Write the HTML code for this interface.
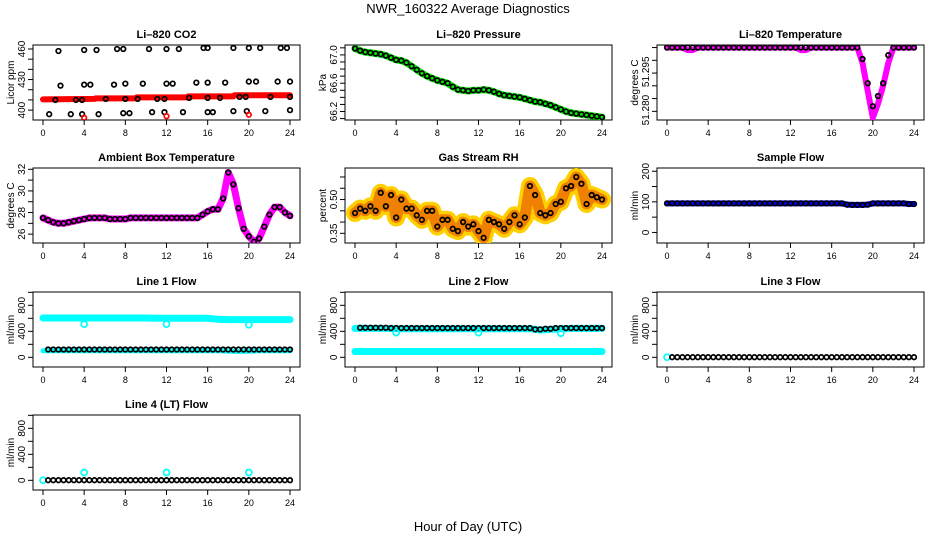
<!DOCTYPE html>
<html><head><meta charset="utf-8"><style>
body{margin:0;background:#fff}
svg{display:block;font-family:"Liberation Sans",Arial,sans-serif}
</style></head><body>
<svg id="c" width="936" height="540" viewBox="0 0 936 540">
<text x="468" y="13" text-anchor="middle" font-size="13">NWR_160322  Average Diagnostics</text>
<text x="468" y="531" text-anchor="middle" font-size="13">Hour of Day (UTC)</text>
</svg>
<script>
// ---- data ----
const hrs = [0,0.5,1,1.5,2,2.5,3,3.5,4,4.5,5,5.5,6,6.5,7,7.5,8,8.5,9,9.5,10,10.5,11,11.5,12,12.5,13,13.5,14,14.5,15,15.5,16,16.5,17,17.5,18,18.5,19,19.5,20,20.5,21,21.5,22,22.5,23,23.5,24];
const xTicks = [0,4,8,12,16,20,24];
// CO2
const co2BandHrs = [0,5,5.1,9,9.1,14,14.1,18.5,18.6,24];
const co2Band = [410.5,411,411.5,411.5,412.5,412.5,413.5,413.5,414.5,414.5];
const co2Hrs = [1.5,4,5.2,7.2,7.8,10.3,12,13.2,15.6,16,18.5,20,21.1,23.1,23.7, 1.7,4,4.6,6.9,8,9.7,12,12.6,14.9,16,17.7,20,20.7,22.8,24, 1.2,3.2,3.8,6.1,8,9.2,11.1,11.8,14.2,16,17.2,19.1,19.7,22.1,24, 0.6,2.7,3.8,5.4,7.8,8.4,10.6,11.8,13.6,16,16.5,18.5,19.8,21.6,24];
const co2Vals = [458,459,459,460,460,460,460,460,461,461,461,461,461,461,461, 424,425,425,425,426,426,426,426,427,427,427,428,428,428,428, 410,410,410,411,411,411,411,411,412,412,412,413,413,413,413, 396,396,396,396,397,397,398,398,398,398,398,399,399,399,400];
const co2RedHrs = [4,12,20];
const co2RedVals = [392.5,394,395.5];
// Pressure
const pres = [67.09,67.06,67.04,67.03,67.02,67.01,66.99,66.96,66.93,66.92,66.89,66.84,66.79,66.74,66.70,66.67,66.64,66.62,66.60,66.55,66.51,66.50,66.49,66.50,66.50,66.51,66.50,66.48,66.45,66.43,66.42,66.41,66.40,66.38,66.36,66.34,66.33,66.31,66.29,66.26,66.23,66.20,66.18,66.17,66.16,66.15,66.14,66.13,66.12];
// Li-820 temperature
const tempBlack = [51.305,51.305,51.305,51.305,51.305,51.305,51.305,51.305,51.305,51.305,51.305,51.305,51.305,51.305,51.305,51.305,51.305,51.305,51.305,51.305,51.305,51.305,51.305,51.305,51.305,51.305,51.305,51.305,51.305,51.305,51.305,51.305,51.305,51.305,51.305,51.305,51.305,51.305,51.3005,51.291,51.282,51.286,51.291,51.302,51.305,51.305,51.305,51.305,51.305];
const tempMag = [51.305,51.305,51.305,51.305,51.304,51.304,51.305,51.305,51.305,51.305,51.305,51.305,51.305,51.305,51.305,51.305,51.305,51.305,51.305,51.305,51.305,51.305,51.305,51.305,51.305,51.305,51.304,51.304,51.305,51.305,51.305,51.305,51.305,51.305,51.305,51.305,51.305,51.305,51.299,51.288,51.2775,51.283,51.290,51.299,51.305,51.305,51.305,51.305,51.305];
// Ambient box temperature
const amb = [27.5,27.3,27.1,27.0,27.0,27.1,27.2,27.3,27.4,27.5,27.5,27.5,27.5,27.4,27.4,27.4,27.4,27.5,27.5,27.5,27.5,27.5,27.5,27.5,27.5,27.5,27.5,27.5,27.5,27.5,27.5,27.8,28.1,28.3,28.3,29.3,31.7,30.6,28.4,26.5,25.8,25.3,25.6,26.7,27.8,28.5,28.5,28.0,27.7];
// Gas stream RH
const rh = [0.44,0.46,0.45,0.47,0.45,0.53,0.47,0.52,0.42,0.50,0.46,0.46,0.43,0.41,0.45,0.45,0.38,0.41,0.41,0.37,0.36,0.40,0.38,0.39,0.36,0.33,0.41,0.40,0.39,0.37,0.40,0.43,0.39,0.42,0.56,0.52,0.44,0.43,0.44,0.48,0.49,0.55,0.56,0.60,0.57,0.48,0.52,0.51,0.50];
// Sample flow
const sampleFlow = [95,95,95,95,95,95,95,95,95,95,95,95,95,95,95,95,95,95,95,95,95,95,95,95,95,95,95,95,95,95,95,95,95,95,95,91,90,90,90,91,95,95,95,95,95,95,95,93,93];
// Line flows (hourly values)
const hrsH = [0,1,2,3,4,5,6,7,8,9,10,11,12,13,14,15,16,17,18,19,20,21,22,23,24];
const l1Cyan = [605,605,605,605,605,605,605,605,605,605,605,600,600,600,600,600,600,585,580,580,580,580,580,580,580];
const l1Black = [120,120,120,120,120,120,120,120,120,120,120,120,120,120,120,120,120,120,120,120,120,120,120,120,120];
const l1Low = [100,100,100,100,100,100,100,100,100,100,100,100,100,100,100,100,100,100,95,90,95,100,100,100,100];
const l2Cyan = [445,445,445,445,440,440,440,440,440,440,440,440,440,440,440,440,440,440,420,430,440,445,445,445,445];
const l2Black = [455,455,455,455,450,450,450,450,450,450,450,450,450,450,450,450,450,450,430,440,450,450,450,450,450];
const l2Low = [90,90,90,90,90,90,90,90,90,90,90,90,90,90,90,90,90,90,90,90,90,90,90,90,90];
const l3Black = [2,2,2,2,2,2,2,2,2,2,2,2,2,2,2,2,2,2,2,2,2,2,2,2,2];
const l4Black = [2,2,2,2,2,2,2,2,2,2,2,2,2,2,2,2,2,2,2,2,2,2,2,2,2];
const dipHrs = [4,12,20];
const l1Dips = [510,510,500];
const l2Dips = [380,380,370];
const l4Bumps = [120,120,120];

// ---- drawing ----
const NS = "http://www.w3.org/2000/svg";
const svg = document.getElementById('c');
function el(tag, attrs, parent){
  const e = document.createElementNS(NS, tag);
  for (const k in attrs) e.setAttribute(k, attrs[k]);
  (parent||svg).appendChild(e);
  return e;
}
const TOPS = [45,168,292,415];
const H = 75;
function panel(col,row,title,ylab,vTop,vBot,ticks,labels,name){
  const g = el('g',{});
  
  
  const x0 = 43 + 312*col, top = TOPS[row], bot = top + H;
  const left = x0 - 10, right = x0 + 257;
  const sx = h => x0 + h*247/24;
  const sy = v => top + (vTop - v)/(vTop - vBot)*H;
  const box = el('rect',{x:left,y:top,width:right-left,height:H,fill:'none',stroke:'#000','stroke-width':1},g);
  
  
  const t = el('text',{x:(left+right)/2,y:top-7,'text-anchor':'middle','font-size':11,'font-weight':'bold'},g);
  t.textContent = title;
  
  
  const yl = el('text',{x:0,y:0,'text-anchor':'middle','font-size':10,transform:`translate(${left-19},${(top+bot)/2}) rotate(-90)`},g);
  yl.textContent = ylab;
  
  
  ticks.forEach(v=>{
    const y = sy(v);
    el('line',{x1:left-5,x2:left,y1:y,y2:y,stroke:'#000'},g);
  });
  labels.forEach(l=>{
    const y = sy(l[0]);
    const tx = el('text',{x:0,y:0,'text-anchor':'middle','font-size':10,transform:`translate(${left-8},${y}) rotate(-90)`},g);
    tx.textContent = l[1];
    
    
  });
  xTicks.forEach(h=>{
    const x = sx(h);
    el('line',{x1:x,x2:x,y1:bot,y2:bot+5,stroke:'#000'},g);
    const tx = el('text',{x:x,y:bot+16,'text-anchor':'middle','font-size':9},g);
    tx.textContent = h;
    
    
  });
  const clip = 'clip'+name;
  const cp = el('clipPath',{id:clip},g);
  el('rect',{x:left,y:top,width:right-left,height:H},cp);
  const data = el('g',{'clip-path':`url(#${clip})`},g);
  
  
  return {sx,sy,g:data};
}
function band(p,xs,ys,color,w,name){
  const d = xs.map((h,i)=>(i?'L':'M')+p.sx(h).toFixed(1)+','+p.sy(ys[i]).toFixed(1)).join('');
  const e = el('path',{d:d,fill:'none',stroke:color,'stroke-width':w,'stroke-linejoin':'round','stroke-linecap':'round'},p.g);
  
  
}
function pts(p,xs,ys,color,r,name){
  xs.forEach((h,i)=>{
    const c = el('circle',{cx:p.sx(h),cy:p.sy(ys[i]),r:r,fill:'none',stroke:color,'stroke-width':1.7},p.g);
    
    
  });
}
function rng(a,b,s){const r=[];for(let v=a;v<=b+1e-9;v+=s)r.push(+v.toFixed(4));return r;}

// CO2
let p = panel(0,0,'Li\u2013820 CO2','Licor ppm',463.9,390.3,rng(400,460,10),[[400,'400'],[430,'430'],[460,'460']],'co2');
band(p,co2BandHrs,co2Band,'#f00',6,'co2-red-band');
pts(p,co2Hrs,co2Vals,'#000',2.3,'co2-point');
pts(p,co2RedHrs,co2RedVals,'#f00',2.3,'co2-red-point');
// Pressure
p = panel(1,0,'Li\u2013820 Pressure','kPa',67.14,66.08,rng(66.1,67.1,0.1),[[66.2,'66.2'],[66.6,'66.6'],[67.0,'67.0']],'pressure');
band(p,hrs,pres,'#0e0',7,'pressure-green-band');
pts(p,hrs,pres,'#000',2.3,'pressure-point');
// Temperature
p = panel(2,0,'Li\u2013820 Temperature','degrees C',51.306,51.2766,rng(51.28,51.305,0.005),[[51.2805,'51.280'],[51.2955,'51.295']],'li820-temp');
band(p,hrs,tempMag,'#f0f',6,'li820-temp-magenta-band');
pts(p,hrs,tempBlack,'#000',2.3,'li820-temp-point');
// Ambient
p = panel(0,1,'Ambient Box Temperature','degrees C',32.12,25.18,rng(26,32,1),[[26,'26'],[28,'28'],[30,'30'],[32,'32']],'ambient');
band(p,hrs,amb,'#f0f',7,'ambient-magenta-band');
pts(p,hrs,amb,'#000',2.3,'ambient-point');
// RH
p = panel(1,1,'Gas Stream RH','percent',0.64,0.307,rng(0.35,0.6,0.05),[[0.35,'0.35'],[0.5,'0.50']],'rh');
band(p,hrs,rh,'#ffd000',18,'rh-yellow-band');
band(p,hrs,rh,'#f08000',11,'rh-orange-band');
pts(p,hrs,rh,'#000',2.3,'rh-point');
// Sample flow
p = panel(2,1,'Sample Flow','ml/min',210.6,-34.5,rng(0,200,50),[[0,'0'],[100,'100'],[200,'200']],'sample-flow');
band(p,hrs,sampleFlow,'#00f',6,'sample-flow-blue-band');
pts(p,hrs,sampleFlow,'#000',2.3,'sample-flow-point');
// Line 1
const fT = rng(0,1000,200), fL=[[0,'0'],[400,'400'],[800,'800']];
p = panel(0,2,'Line 1 Flow','ml/min',1005,-149,fT,fL,'line1');
band(p,hrsH,l1Cyan,'#0ff',7,'line1-cyan-band');
band(p,hrsH,l1Low,'#0ff',5,'line1-cyan-low-band');
pts(p,hrs.slice(1),hrs.slice(1).map(h=>l1Black[Math.round(h)]),'#000',2.3,'line1-point');
pts(p,dipHrs,l1Dips,'#0ff',3,'line1-cyan-dip');
// Line 2
p = panel(1,2,'Line 2 Flow','ml/min',1005,-149,fT,fL,'line2');
band(p,hrsH,l2Cyan,'#0ff',7,'line2-cyan-band');
band(p,hrsH,l2Low,'#0ff',7,'line2-cyan-low-band');
pts(p,hrs.slice(1),hrs.slice(1).map(h=>l2Black[Math.round(h)]),'#000',2.3,'line2-point');
pts(p,dipHrs,l2Dips,'#0ff',3,'line2-cyan-dip');
// Line 3
p = panel(2,2,'Line 3 Flow','ml/min',1005,-149,fT,fL,'line3');
pts(p,[0],[2],'#0ff',3,'line3-cyan-point');
pts(p,hrs.slice(1),hrs.slice(1).map(h=>l3Black[Math.round(h)]),'#000',2.3,'line3-point');
// Line 4
p = panel(0,3,'Line 4 (LT) Flow','ml/min',1005,-149,fT,fL,'line4');
pts(p,[0],[2],'#0ff',3,'line4-cyan-point');
pts(p,hrs.slice(1),hrs.slice(1).map(h=>l4Black[Math.round(h)]),'#000',2.3,'line4-point');
pts(p,dipHrs,l4Bumps,'#0ff',3,'line4-cyan-bump');
</script>
</body></html>
